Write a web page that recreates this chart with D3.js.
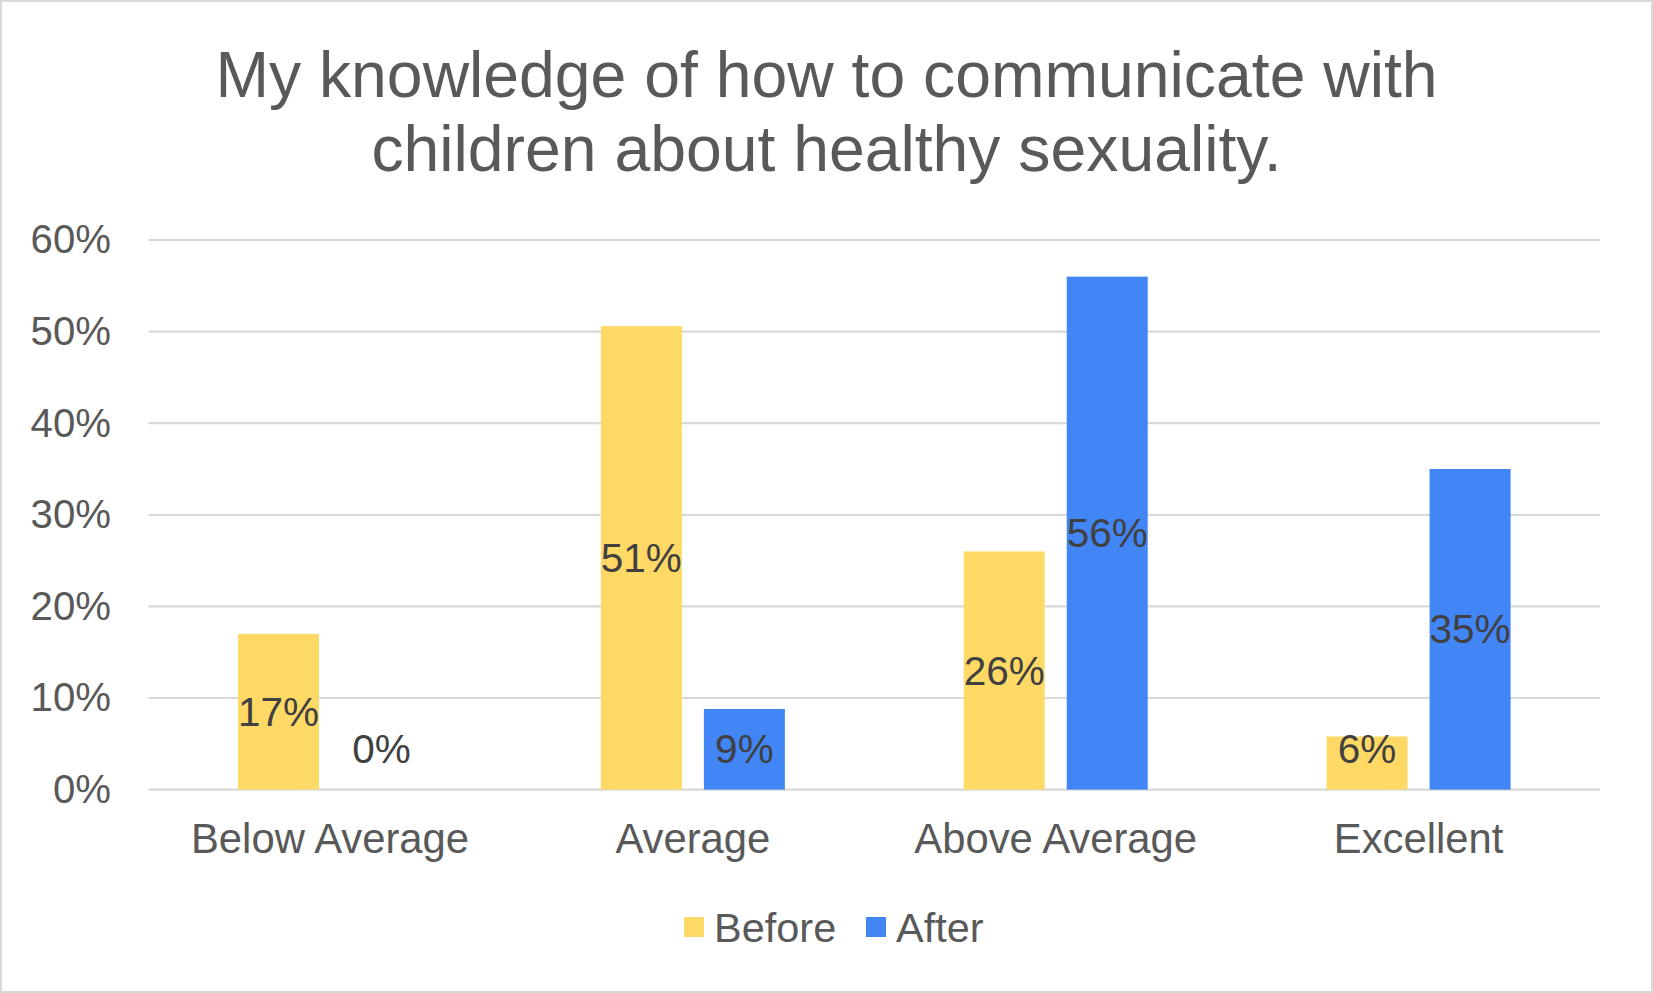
<!DOCTYPE html>
<html>
<head>
<meta charset="utf-8">
<script src="https://cdn.jsdelivr.net/npm/d3@7"></script>
<style>
  html, body { margin: 0; padding: 0; background: #fff; }
  #chart { width: 1653px; height: 993px; }
  text { font-family: "Liberation Sans", Arial, sans-serif; }
</style>
</head>
<body>
<div id="chart"></div>
<script>
const titleLines = [
  "My knowledge of how to communicate with",
  "children about healthy sexuality."
];
const categories = ["Below Average", "Average", "Above Average", "Excellent"];
const seriesNames = ["Before", "After"];
const beforeValues = [0.17, 0.506, 0.26, 0.058];
const afterValues = [0, 0.088, 0.56, 0.35];
const yTicks = [0, 0.1, 0.2, 0.3, 0.4, 0.5, 0.6];
const colors = ["#ffd966", "#4285f4"];

const width = 1653;
const height = 993;
const plot = { left: 148.6, right: 1600, top: 240, bottom: 789.6 };

const svg = d3
  .select("#chart")
  .append("svg")
  .attr("width", width)
  .attr("height", height);

// outer frame
svg
  .append("rect")
  .attr("x", 1)
  .attr("y", 1)
  .attr("width", width - 2)
  .attr("height", height - 2)
  .attr("fill", "#fff")
  .attr("stroke", "#d9d9d9")
  .attr("stroke-width", 2);

// title
svg
  .append("text")
  .attr("text-anchor", "middle")
  .attr("font-size", 64.3)
  .attr("fill", "#595959")
  .selectAll("tspan")
  .data(titleLines)
  .join("tspan")
  .attr("x", width / 2)
  .attr("y", (d, i) => 97 + i * 74)
  .text((d) => d);

const x0 = d3
  .scaleBand()
  .domain(categories)
  .range([plot.left, plot.right]);

// two bars 81px wide with ~22px between, centred in each band
const groupW = 184;
const x1 = d3
  .scaleBand()
  .domain(seriesNames)
  .range([(x0.bandwidth() - groupW) / 2, (x0.bandwidth() + groupW) / 2])
  .paddingInner(0.214);

const y = d3.scaleLinear().domain([0, 0.6]).range([plot.bottom, plot.top]);

// gridlines
svg
  .append("g")
  .selectAll("line")
  .data(yTicks)
  .join("line")
  .attr("x1", plot.left)
  .attr("x2", plot.right)
  .attr("y1", (d) => y(d))
  .attr("y2", (d) => y(d))
  .attr("stroke", "#d9d9d9")
  .attr("stroke-width", 2.2);

// y axis labels
const yAxis = d3
  .axisLeft(y)
  .tickValues(yTicks)
  .tickFormat(d3.format(".0%"))
  .tickSize(0)
  .tickPadding(0);

const yg = svg
  .append("g")
  .attr("transform", `translate(111,0)`)
  .call(yAxis);
yg.select(".domain").remove();
yg.selectAll("text")
  .attr("font-size", 40.2)
  .attr("fill", "#595959")
  .attr("font-family", '"Liberation Sans", Arial, sans-serif');

// x axis labels
const xAxis = d3.axisBottom(x0).tickSize(0).tickPadding(0);
const xg = svg
  .append("g")
  .attr("transform", `translate(0,${plot.bottom + 34})`)
  .call(xAxis);
xg.select(".domain").remove();
xg.selectAll("text")
  .attr("font-size", 41.8)
  .attr("fill", "#595959")
  .attr("font-family", '"Liberation Sans", Arial, sans-serif');

const rows = categories.map((c, i) => ({
  category: c,
  values: [
    { series: seriesNames[0], value: beforeValues[i] },
    { series: seriesNames[1], value: afterValues[i] }
  ]
}));

const groups = svg
  .append("g")
  .selectAll("g")
  .data(rows)
  .join("g")
  .attr("transform", (d) => `translate(${x0(d.category)},0)`);

groups
  .selectAll("rect")
  .data((d) => d.values)
  .join("rect")
  .attr("x", (d) => x1(d.series))
  .attr("width", x1.bandwidth())
  .attr("y", (d) => y(d.value))
  .attr("height", (d) => y(0) - y(d.value))
  .attr("fill", (d, i) => colors[i]);

// data labels, centred in the bar (kept clear of the baseline for short bars)
groups
  .selectAll("text.label")
  .data((d) => d.values)
  .join("text")
  .attr("class", "label")
  .attr("x", (d) => x1(d.series) + x1.bandwidth() / 2)
  .attr("y", (d) => Math.min((y(d.value) + y(0)) / 2, y(0) - 41))
  .attr("dy", "0.35em")
  .attr("text-anchor", "middle")
  .attr("font-size", 40.5)
  .attr("fill", "#404040")
  .text((d) => d3.format(".0%")(d.value));

// legend
const legendItems = [
  { name: seriesNames[0], x: 684, color: colors[0] },
  { name: seriesNames[1], x: 866, color: colors[1] }
];
const legend = svg
  .append("g")
  .selectAll("g")
  .data(legendItems)
  .join("g")
  .attr("transform", (d) => `translate(${d.x},927)`);

legend
  .append("rect")
  .attr("x", 0)
  .attr("y", -10)
  .attr("width", 20)
  .attr("height", 20)
  .attr("fill", (d) => d.color);

legend
  .append("text")
  .attr("x", 30)
  .attr("dy", "0.35em")
  .attr("font-size", 41.5)
  .attr("fill", "#595959")
  .text((d) => d.name);
</script>
</body>
</html>
